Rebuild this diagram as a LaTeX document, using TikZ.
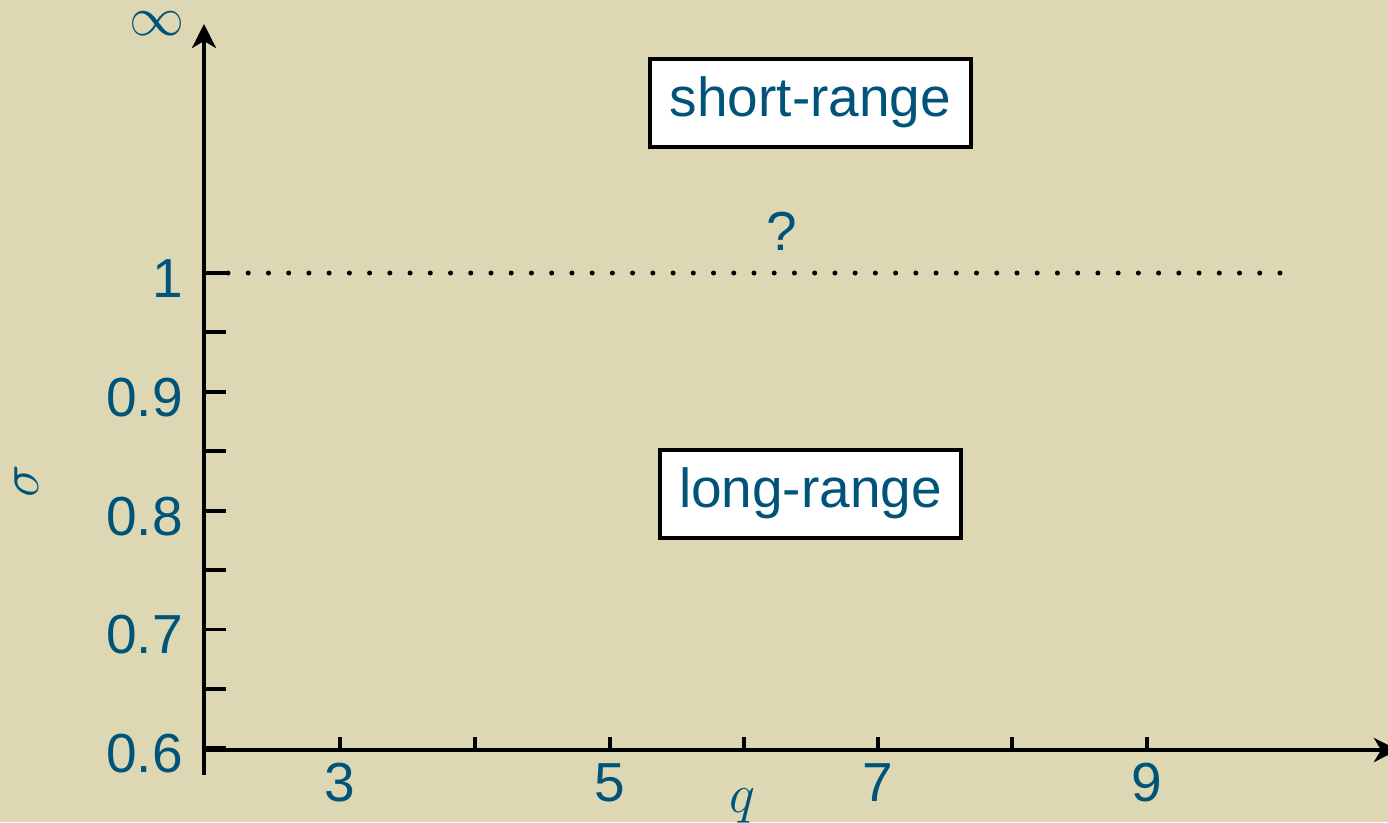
\RequirePackage{fix-cm}
\documentclass[tikz,border=0pt]{standalone}
\usepackage{fontspec}
\setmainfont{Liberation Sans}
\usetikzlibrary{arrows.meta}
\definecolor{bg}{RGB}{221,216,179}
\definecolor{txt}{RGB}{0,84,122}
\begin{document}
\begin{tikzpicture}[x=1pt,y=-1pt,
  lbl/.style={text=txt,font=\fontsize{55}{60}\selectfont,inner sep=0pt},
  rangebox/.style={lbl,draw=black,line width=4pt,fill=white,minimum height=88pt},
  axline/.style={line width=4.5pt,-{Stealth[length=24pt,width=24pt,inset=7pt]}},
  tickline/.style={line width=3.5pt},
  dotline/.style={line width=5pt,line cap=round,dash pattern=on 0pt off 20.23pt}]
\fill[bg] (0,0) rectangle (1388,822);
\useasboundingbox (0,0) rectangle (1388,822);
% axes
\coordinate (ybot) at (204,775);
\coordinate (ytop) at (204,24);
\coordinate (xl) at (202,750);
\coordinate (xr) at (1398,750);
\draw[axline] (ybot) -- (ytop);
\draw[axline] (xl) -- (xr);
% y ticks and labels
\foreach \y/\t [count=\i] in {748/0.6,689/,629.5/0.7,570/,511/0.8,451/,392/0.9,332/,273/1}{
  \coordinate (yt\i) at (204,\y);
  \coordinate (ye\i) at (226,\y);
  \draw[tickline] (yt\i) -- (ye\i);
  \node[lbl,anchor=base east] (yl\i) at (183,\y+24) {\t};
}
% x ticks and labels
\foreach \x/\t [count=\i] in {340/3,475/,610/5,744/,878/7,1012/,1147/9}{
  \coordinate (xt\i) at (\x,750);
  \coordinate (xe\i) at (\x,737);
  \draw[tickline] (xt\i) -- (xe\i);
  \node[lbl,anchor=base] (xlab\i) at (\x,801) {\t};
}
% dotted line at sigma = 1
\coordinate (d1) at (228,273);
\coordinate (d2) at (1282,273);
\draw[dotline] (d1) -- (d2);
% axis names
\node[lbl] (inf) at (157,24) {$\infty$};
\node[lbl,rotate=90] (sig) at (27,481) {$\sigma$};
\node[lbl,anchor=base] (q) at (742,812) {$q$};
% boxes
\node[rangebox,minimum width=321pt] (short) at (810.5,102.5) {short-range};
\node[rangebox,minimum width=301pt] (long) at (810.5,493.5) {long-range};
\node[lbl,anchor=base] (qm) at (782,250) {?};
\end{tikzpicture}
\end{document}
